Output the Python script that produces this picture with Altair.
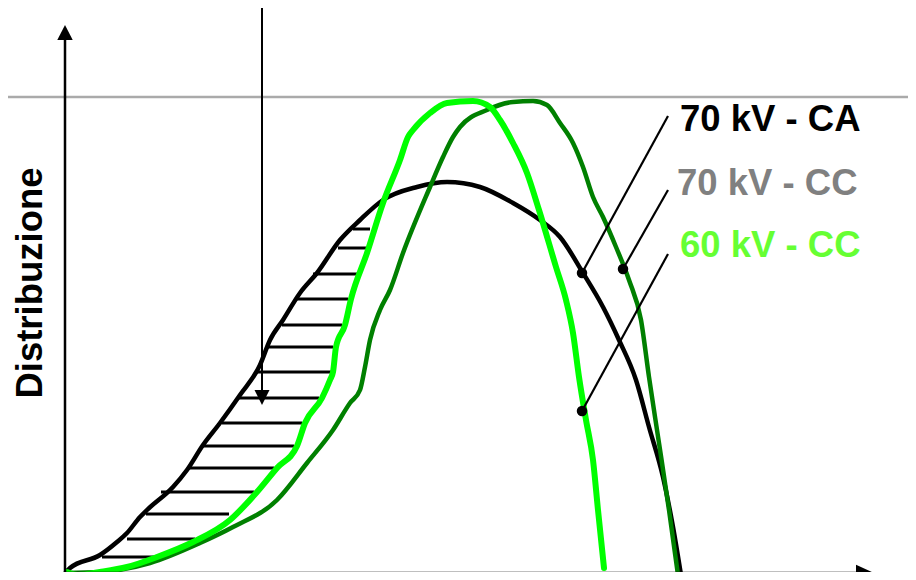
import altair as alt
import pandas as pd

# ---- data (chart units: x = distance from y-axis, y = height above x-axis) ----
ca_x = [0, 4, 34, 51, 61, 74, 81, 107, 121, 137, 154, 174, 194, 204, 217, 234, 251, 274, 294, 317, 351, 381,
        414, 447, 474, 494, 517, 537, 553, 570, 583, 597, 607, 615]
ca_y = [1, 5, 18, 31, 40, 56, 63, 86, 103, 128, 150, 178, 208, 233, 253, 280, 300, 333, 353, 373, 386, 391,
        386, 370, 353, 336, 300, 266, 233, 193, 146, 96, 46, -2]

cc60_x = [1, 12, 34, 61, 91, 127, 164, 191, 211, 231, 239, 256, 264, 267, 270, 279, 285, 301, 317, 334, 342, 347,
          364, 381, 407, 424, 434, 447, 461, 473, 490, 500, 507, 513, 520, 527, 532, 538]
cc60_y = [1, -2, 1, 6, 16, 31, 53, 81, 105, 127, 150, 175, 193, 201, 226, 248, 274, 320, 370, 413, 436, 443,
          460, 470, 472, 466, 453, 430, 400, 363, 306, 273, 240, 196, 153, 113, 63, 5]

cc70_x = [0, 34, 84, 134, 167, 211, 241, 267, 284, 294, 299, 304, 314, 324, 337, 364, 377, 387, 394, 421, 447,
          467, 481, 494, 507, 517, 527, 537, 550, 563, 575, 583, 593, 603, 612]
cc70_y = [0, 1, 10, 30, 46, 73, 110, 143, 170, 183, 206, 233, 263, 283, 320, 386, 416, 436, 446, 463, 471,
          472, 468, 450, 430, 406, 376, 356, 326, 293, 253, 196, 130, 63, -2]

hatch_y = [344, 325, 299, 274, 248, 226, 201, 175, 150, 127, 105, 81, 59, 34, 16]
hatch_x1 = [287, 272, 247, 231, 216, 202, 191, 171, 156, 137, 122, 95, 80, 61, 36]
hatch_x2 = [304, 304, 293, 282, 276, 267, 265, 253, 236, 228, 208, 188, 163, 129, 90]

labels = ["70 kV - CA", "70 kV - CC", "60 kV - CC"]
label_colors = ["#000000", "#808080", "#66ff33"]
label_x = [614, 611, 614]
label_y = [442, 378, 316]
dot_x = [516, 557, 516]
dot_y = [300, 304, 162]
lead_x = [602, 602, 602]
lead_y = [457, 383, 319]

y_title = "Distribuzione"

# ---- scales ----
W, H = 900, 564
xs = alt.Scale(domain=[-58, 842], nice=False, zero=False)
ys = alt.Scale(domain=[1, 565], nice=False, zero=False)
X = lambda f: alt.X(f, type="quantitative", scale=xs, axis=None)
Y = lambda f: alt.Y(f, type="quantitative", scale=ys, axis=None)


def curve(xv, yv, color, width):
    df = pd.DataFrame({"x": xv, "y": yv, "o": range(len(xv))})
    return alt.Chart(df).mark_line(color=color, strokeWidth=width, interpolate="monotone",
                                   strokeCap="round", strokeJoin="round").encode(
        x=X("x"), y=Y("y"), order="o:Q")


# reference gray line at top
gray = alt.Chart(pd.DataFrame({"x": [-66], "x2": [850], "y": [476]})).mark_rule(
    color="#aaaaaa", strokeWidth=2.5).encode(x=X("x"), x2="x2", y=Y("y"))

# axes
axes_df = pd.DataFrame({"x": [-1, -1], "y": [0, 0], "x2": [-1, 792], "y2": [533, 0]})
axes = alt.Chart(axes_df).mark_rule(color="black", strokeWidth=2.5).encode(
    x=X("x"), y=Y("y"), x2="x2", y2="y2")

arrow_up = alt.Chart(pd.DataFrame({"x": [-1], "y": [540.5]})).mark_point(
    shape="M0,-1L1.03,1L-1.03,1Z", size=225, filled=True, color="black", opacity=1, strokeWidth=0
).encode(x=X("x"), y=Y("y"))
arrow_right = alt.Chart(pd.DataFrame({"x": [798.5], "y": [0.5]})).mark_point(
    shape="M1,0L-1,0.9L-1,-0.9Z", size=289, filled=True, color="black", opacity=1, strokeWidth=0
).encode(x=X("x"), y=Y("y"))

# vertical arrow
varrow_line = alt.Chart(pd.DataFrame({"x": [196], "y": [567], "y2": [180]})).mark_rule(
    color="black", strokeWidth=2).encode(x=X("x"), y=Y("y"), y2="y2")
varrow_head = alt.Chart(pd.DataFrame({"x": [196], "y": [175.5]})).mark_point(
    shape="M0,1L1,-1L-1,-1Z", size=225, filled=True, color="black", opacity=1, strokeWidth=0
).encode(x=X("x"), y=Y("y"))

# hatch lines
hatch = alt.Chart(pd.DataFrame({"x": hatch_x1, "x2": hatch_x2, "y": hatch_y})).mark_rule(
    color="black", strokeWidth=3).encode(x=X("x"), x2="x2", y=Y("y"))

black = curve(ca_x, ca_y, "#000000", 4.5)
dark = curve(cc70_x, cc70_y, "#008000", 4.5)
light = curve(cc60_x, cc60_y, "#00ff00", 6)

# leaders
lead_df = pd.DataFrame({"x": dot_x, "y": dot_y, "x2": lead_x, "y2": lead_y})
leaders = alt.Chart(lead_df).mark_rule(color="black", strokeWidth=2.2).encode(
    x=X("x"), y=Y("y"), x2="x2", y2="y2")
dots = alt.Chart(lead_df).mark_point(filled=True, color="black", size=110, opacity=1).encode(
    x=X("x"), y=Y("y"))

lab_df = pd.DataFrame({"t": labels, "c": label_colors, "x": label_x, "y": label_y})
texts = alt.Chart(lab_df).mark_text(align="left", baseline="alphabetic", fontSize=36.5,
                                    fontWeight="bold", font="Liberation Sans").encode(
    x=X("x"), y=Y("y"), text="t:N", color=alt.Color("c:N", scale=None))

ytitle = alt.Chart(pd.DataFrame({"t": [y_title], "x": [-24], "y": [290]})).mark_text(
    align="center", baseline="alphabetic", angle=270, fontSize=36.5, fontWeight="bold",
    font="Liberation Sans", color="black").encode(x=X("x"), y=Y("y"), text="t:N")

chart = alt.layer(gray, hatch, black, dark, light, axes, arrow_up, arrow_right,
                  varrow_line, varrow_head, leaders, dots, texts, ytitle).properties(
    width=W, height=H, padding=0, autosize=alt.AutoSizeParams(type="none"),
    background="white"
).configure_view(stroke=None)

chart.save("out.html", embed_options={"renderer": "svg", "actions": False})
